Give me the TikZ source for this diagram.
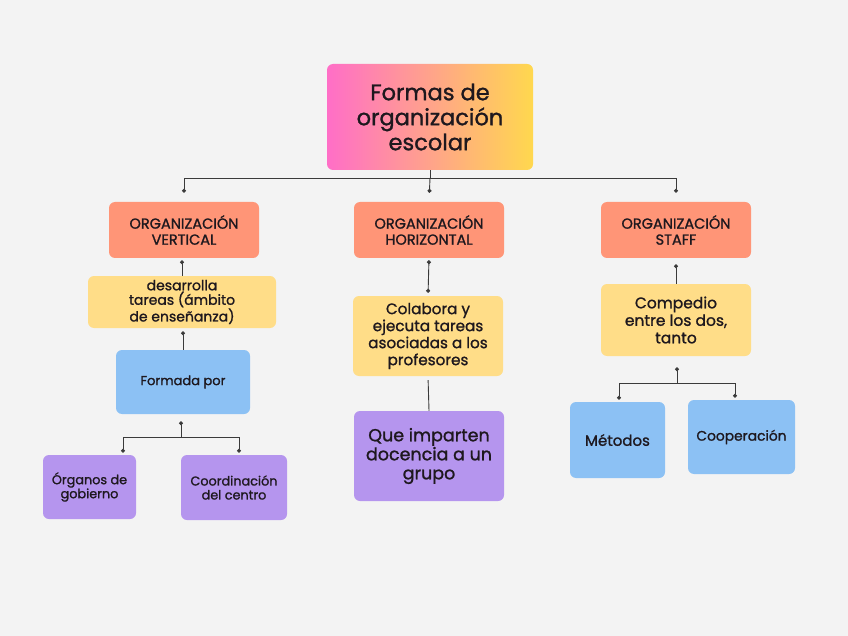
\documentclass[tikz,border=0pt]{standalone}
\usepackage{fontspec}
\setmainfont{Poppins}[FakeBold=1.2]
\usetikzlibrary{arrows.meta}

\definecolor{fondo}{RGB}{243,243,243}
\definecolor{salmon}{RGB}{255,149,119}
\definecolor{amarillo}{RGB}{255,221,136}
\definecolor{azul}{RGB}{140,193,244}
\definecolor{lila}{RGB}{181,149,238}
\definecolor{rosa}{RGB}{255,110,199}
\definecolor{oro}{RGB}{255,216,78}
\definecolor{linea}{RGB}{58,58,58}
\definecolor{texto}{RGB}{30,24,30}

\tikzset{
	caja/.style={rounded corners=6pt, align=center, inner sep=0pt, text=texto},
	enlace/.style={draw=linea, line width=0.9pt, -{Circle[length=4pt]}},
	linkplano/.style={draw=linea, line width=0.9pt}
}

\begin{document}
\begin{tikzpicture}[x=1pt, y=-1pt]
		
		\fill[fondo] (0,0) rectangle (848,636);
		\useasboundingbox (0,0) rectangle (848,636);
		
		\node[caja, left color=rosa, right color=oro, minimum width=206pt, minimum height=106pt,
			font=\fontsize{22.5}{25}\selectfont] (titulo) at (430,117)
			{Formas de\\organización\\escolar};
		
		\node[caja, fill=salmon, minimum width=150pt, minimum height=56pt,
			font=\fontsize{14.5}{16}\selectfont] (vertical) at (184,230) {ORGANIZACIÓN\\VERTICAL};
		\node[caja, fill=salmon, minimum width=150pt, minimum height=56pt,
			font=\fontsize{14.5}{16}\selectfont] (horizontal) at (429,230) {ORGANIZACIÓN\\HORIZONTAL};
		\node[caja, fill=salmon, minimum width=150pt, minimum height=56pt,
			font=\fontsize{14.5}{16}\selectfont] (staff) at (676,230) {ORGANIZACIÓN\\STAFF};
		
		\node[caja, fill=amarillo, minimum width=188pt, minimum height=52pt,
			font=\fontsize{14}{14.5}\selectfont] (desarrolla) at (182,302)
			{desarrolla\\tareas (ámbito\\de enseñanza)};
		\node[caja, fill=azul, minimum width=134pt, minimum height=64pt,
			font=\fontsize{13}{14}\selectfont] (formada) at (183,382) {Formada por};
		\node[caja, fill=lila, minimum width=93pt, minimum height=64pt,
			font=\fontsize{12.8}{14}\selectfont] (organos) at (89.5,487) {Órganos de\\gobierno};
		\node[caja, fill=lila, minimum width=106pt, minimum height=65pt,
			font=\fontsize{12.8}{14}\selectfont] (coordinacion) at (234,487.5) {Coordinación\\del centro};
		
		\node[caja, fill=amarillo, minimum width=150pt, minimum height=80pt,
			font=\fontsize{15.2}{17}\selectfont] (colabora) at (428,336)
			{Colabora y\\ejecuta tareas\\asociadas a los\\profesores};
		\node[caja, fill=lila, minimum width=150pt, minimum height=90pt,
			font=\fontsize{17.5}{19}\selectfont] (imparten) at (429,456)
			{Que imparten\\docencia a un\\grupo};
		
		\node[caja, fill=amarillo, minimum width=150pt, minimum height=72pt,
			font=\fontsize{15.5}{17.5}\selectfont] (compedio) at (676,320)
			{Compedio\\entre los dos,\\tanto};
		\node[caja, fill=azul, minimum width=95pt, minimum height=76pt,
			font=\fontsize{15}{15}\selectfont] (metodos) at (617.5,440) {Métodos};
		\node[caja, fill=azul, minimum width=107pt, minimum height=74pt,
			font=\fontsize{13.8}{15}\selectfont] (cooperacion) at (741.5,437) {Cooperación};
		
		\coordinate (reparto) at (430,178);
		\coordinate (repartoV) at (181,437);
		\coordinate (repartoS) at (677,383);
		
		\draw[linkplano] (titulo.south) -- (reparto);
		\draw[enlace, shorten >=9pt] (reparto) -| (vertical.north);
		\draw[enlace, shorten >=9pt] (reparto) -| (staff.north);
		\draw[enlace, shorten >=9pt] (reparto) -- (horizontal.north);
		
		\draw[enlace, shorten >=2pt] (desarrolla.north) -- (desarrolla.north |- vertical.south);
		\draw[enlace, shorten >=3pt] (formada.north) -- (formada.north |- desarrolla.south);
		\draw[enlace, shorten >=7pt] (repartoV) -- (repartoV |- formada.south);
		\draw[enlace, shorten >=2pt] (repartoV) -| ([xshift=33.5pt]organos.north);
		\draw[enlace, shorten >=2pt] (repartoV) -| ([xshift=5pt]coordinacion.north);
		
		\draw[enlace, {Circle[length=4pt]}-{Circle[length=4pt]}, shorten <=2pt, shorten >=3pt]
		(horizontal.south) -- (colabora.north);
		\draw[linkplano, shorten <=4pt] (colabora.south) -- (imparten.north);
		
		\draw[enlace, shorten >=6pt] (compedio.north) -- (compedio.north |- staff.south);
		\draw[enlace, shorten >=11pt] (repartoS) -- (repartoS |- compedio.south);
		\draw[enlace, shorten >=2pt] (repartoS) -| ([xshift=1.5pt]metodos.north);
		\draw[enlace, shorten >=2pt] (repartoS) -| ([xshift=-6.5pt]cooperacion.north);
		
	\end{tikzpicture}
\end{document}
